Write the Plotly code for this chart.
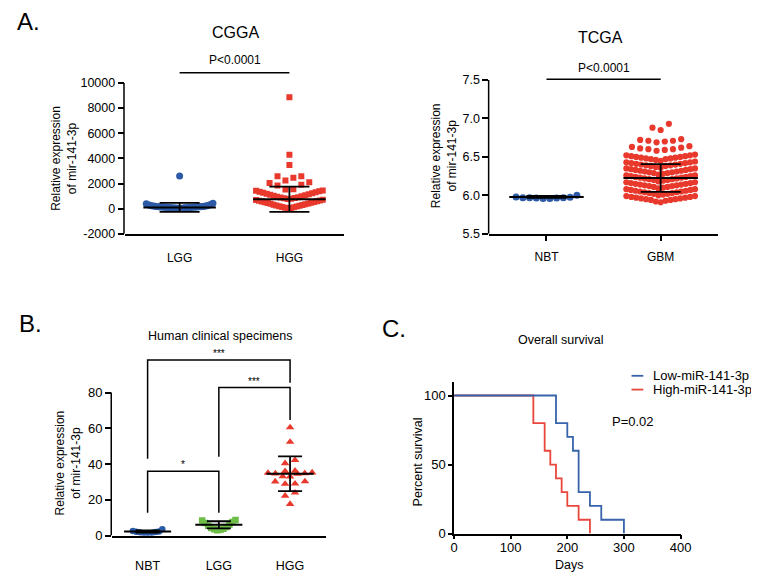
import plotly.graph_objects as go

W, H = 759, 573
FONT = "Liberation Sans, Arial, sans-serif"

# ---------------- data ----------------
# Panel A (left): CGGA
cgga_groups = ["LGG", "HGG"]
cgga_lgg = [20, 30, 40, 50, 55, 60, 65, 70, 75, 80, 85, 90, 95, 100, 105, 110,
            115, 120, 125, 130, 135, 140, 145, 150, 160, 170, 180, 190, 200,
            210, 220, 240, 260, 280, 300, 320, 350, 380, 420, 2600]
cgga_hgg = [20, 50, 80, 110, 140, 170, 200, 230, 260, 290, 320, 350, 380, 410,
            440, 470, 500, 530, 560, 590, 620, 650, 680, 700,
            760, 790, 820, 850, 880, 910, 940, 980, 1020, 1060, 1100, 1140,
            1180, 1220, 1260, 1300, 1340, 1380, 1420, 1450,
            1530, 1540, 1840, 1900, 2050, 2100,
            2235, 2450, 2570, 2580,
            3470, 4280, 8850]
cgga_mean = [100, 750]
cgga_sd = [360, 1000]
cgga_ticks = [-2000, 0, 2000, 4000, 6000, 8000, 10000]
cgga_ticktext = ["-2000", "0", "2000", "4000", "6000", "8000", "10000"]

# Panel A (right): TCGA
tcga_groups = ["NBT", "GBM"]
tcga_nbt = [5.96, 5.96, 5.965, 5.965, 5.97, 5.97, 5.97, 5.975, 5.98, 6.0]
tcga_gbm = [5.91, 5.92, 5.93, 5.94, 5.94, 5.95, 5.95, 5.96, 5.96, 5.97, 5.97, 5.98, 5.98, 5.99, 5.99,
            6.00, 6.01, 6.02, 6.02, 6.03, 6.03, 6.04, 6.04, 6.05, 6.05, 6.06, 6.06, 6.07, 6.07, 6.08, 6.08,
            6.09, 6.10, 6.11, 6.11, 6.12, 6.12, 6.13, 6.13, 6.14, 6.14, 6.15, 6.15, 6.16, 6.16, 6.17, 6.17,
            6.18, 6.19, 6.20, 6.20, 6.21, 6.21, 6.22, 6.22, 6.23, 6.23, 6.24, 6.24, 6.25, 6.25, 6.26, 6.26,
            6.27, 6.28, 6.29, 6.29, 6.30, 6.30, 6.31, 6.31, 6.32, 6.32, 6.33, 6.33, 6.34, 6.34, 6.35, 6.35,
            6.36, 6.37, 6.38, 6.38, 6.39, 6.39, 6.40, 6.40, 6.41, 6.41, 6.42, 6.42, 6.43, 6.43, 6.44,
            6.45, 6.46, 6.47, 6.47, 6.48, 6.48, 6.49, 6.49, 6.50, 6.50, 6.51, 6.51, 6.52, 6.52, 6.53,
            6.58, 6.59, 6.60, 6.60, 6.61, 6.62, 6.63, 6.64,
            6.69, 6.70, 6.71, 6.71, 6.72, 6.73,
            6.85, 6.88, 6.93]
tcga_mean = [5.98, 6.225]
tcga_sd = [0.012, 0.18]
tcga_ticks = [5.5, 6.0, 6.5, 7.0, 7.5]

# Panel B: human clinical specimens
b_groups = ["NBT", "LGG", "HGG"]
b_nbt = [0.5, 0.8, 1.2, 1.5, 1.8, 2.0, 2.1, 2.3, 2.6, 3.5]
b_lgg = [3.0, 3.2, 3.5, 3.8, 4.2, 4.8, 5.5, 6.2, 7.0, 7.6, 8.4, 8.7]
b_hgg = [17.6, 22.2, 24.0, 28.9, 29.0, 30.2, 30.3, 33.0, 33.1, 34.5, 34.7, 34.8,
         35.0, 35.2, 36.0, 36.2, 40.4, 42.2, 52.4, 60.5]
b_mean = [2.2, 6.0, 34.6]
b_sd = [0.6, 2.0, 9.7]
b_ticks = [0, 20, 40, 60, 80]
# brackets: (x_from, x_to, bar_y, leg_end_left, leg_end_right, label)
b_brackets = [(0, 2, 98.2, 43.0, 85.5, "***"),
              (1, 2, 82.8, 44.1, 64.6, "***"),
              (0, 1, 35.9, 12.7, 12.7, "*")]

# Panel C: survival
low_days = [0, 180, 200, 210, 220, 240, 260, 300]
low_surv = [100, 80, 70, 60, 30, 20, 10, 0]
high_days = [0, 140, 160, 170, 180, 190, 200, 220, 240]
high_surv = [100, 80, 60, 50, 40, 30, 20, 10, 0]
c_xticks = [0, 100, 200, 300, 400]
c_yticks = [0, 50, 100]

# ---------------- styling / layout ----------------
BLUE = "#2c5aa7"
RED = "#e8392c"
GREEN = "#6dbd46"
KM_BLUE = "#3763aa"
KM_RED = "#e9473b"


def pxx(p):
    return p / W


def pxy(p):
    return 1 - p / H


panels = {
    "a1": dict(ax="", px=(115, 339), py=(229, 44.1), xr=(-0.5, 1.5), yr=(-2000, 12500)),
    "a2": dict(ax="2", px=(487, 720), py=(229, 49.6), xr=(-0.5, 1.5), yr=(5.5, 7.8)),
    "b": dict(ax="3", px=(102, 320), py=(535, 339.25), xr=(-0.5, 2.5), yr=(0, 108)),
    "c": dict(ax="4", px=(451, 682), py=(533, 379), xr=(0, 400), yr=(0, 110)),
}

fig = go.Figure()


def ppu_x(p):
    P = panels[p]
    return (P["px"][1] - P["px"][0]) / (P["xr"][1] - P["xr"][0])


def swarm(values, center, binh, size, maxw, ppx):
    vals = sorted(values)
    rows, cur, start = [], [vals[0]], vals[0]
    for v in vals[1:]:
        if v < start + binh:
            cur.append(v)
        else:
            rows.append(cur)
            cur, start = [v], v
    rows.append(cur)
    xs, ys = [], []
    for row in rows:
        n = len(row)
        s = 1.35 * size
        if n > 1 and (n - 1) * s > maxw:
            s = maxw / (n - 1)
        slots = [(k - (n - 1) / 2) * s for k in range(n)]
        slots.sort(key=lambda o: (round(abs(o), 6), o))
        for v, o in zip(row, slots):
            xs.append(center + o / ppx)
            ys.append(v)
    return xs, ys


def add_group(p, values, cat, color, symbol, size, binh, maxw):
    P = panels[p]
    xs, ys = swarm(values, cat, binh, size, maxw, ppu_x(p))
    fig.add_trace(go.Scatter(x=xs, y=ys, mode="markers", xaxis="x" + P["ax"], yaxis="y" + P["ax"],
                             marker=dict(color=color, symbol=symbol, size=size, line=dict(width=0)),
                             showlegend=False, hoverinfo="skip"))


def add_meansd(p, means, sds, mean_hw_px, cap_px):
    P = panels[p]
    hw = mean_hw_px / ppu_x(p)
    for i, (m, s) in enumerate(zip(means, sds)):
        fig.add_trace(go.Scatter(x=[i - hw, i + hw], y=[m, m], mode="lines",
                                 xaxis="x" + P["ax"], yaxis="y" + P["ax"],
                                 line=dict(color="black", width=2), showlegend=False, hoverinfo="skip"))
        fig.add_trace(go.Scatter(x=[i], y=[m], mode="markers", xaxis="x" + P["ax"], yaxis="y" + P["ax"],
                                 marker=dict(size=1, color="rgba(0,0,0,0)"),
                                 error_y=dict(type="data", array=[s], visible=True, color="black",
                                              thickness=1.8, width=cap_px),
                                 showlegend=False, hoverinfo="skip"))


# Panel A left
add_group("a1", cgga_lgg, 0, BLUE, "circle", 7, 700, 68)
add_group("a1", cgga_hgg, 1, RED, "square", 6, 700, 68)
add_meansd("a1", cgga_mean, cgga_sd, 37, 20)

# Panel A right
add_group("a2", tcga_nbt, 0, BLUE, "circle", 7, 0.088, 62)
add_group("a2", tcga_gbm, 1, RED, "circle", 6.2, 0.088, 70)
add_meansd("a2", tcga_mean, tcga_sd, 38, 20)

# Panel B
add_group("b", b_nbt, 0, BLUE, "circle", 6.5, 8, 30)
add_group("b", b_lgg, 1, GREEN, "square", 6.5, 8, 34)
add_group("b", b_hgg, 2, RED, "triangle-up", 7.5, 2.5, 45)
add_meansd("b", b_mean, b_sd, 24, 12)

# Panel C
fig.add_trace(go.Scatter(x=high_days, y=high_surv, mode="lines", line_shape="hv", name="High-miR-141-3p",
                         xaxis="x4", yaxis="y4", line=dict(color=KM_RED, width=1.8),
                         showlegend=False, hoverinfo="skip"))
fig.add_trace(go.Scatter(x=low_days, y=low_surv, mode="lines", line_shape="hv", name="Low-miR-141-3p",
                         xaxis="x4", yaxis="y4", line=dict(color=KM_BLUE, width=1.8),
                         showlegend=False, hoverinfo="skip"))

# ---------------- axes ----------------
tickfont = dict(family=FONT, size=12.5, color="black")
catfont = dict(family=FONT, size=12, color="black")
common = dict(showgrid=False, zeroline=False, linecolor="black", linewidth=1.5,
              tickcolor="black", tickwidth=1.5, fixedrange=True)

layout = dict(width=W, height=H, margin=dict(l=0, r=0, t=0, b=0), autosize=False,
              paper_bgcolor="white", plot_bgcolor="white", showlegend=False,
              font=dict(family=FONT, color="black"))


def set_axes(p, xkw, ykw):
    P = panels[p]
    ax = P["ax"]
    layout["xaxis" + ax] = dict(common, domain=[pxx(P["px"][0]), pxx(P["px"][1])], range=list(P["xr"]),
                                anchor="y" + ax, **xkw)
    layout["yaxis" + ax] = dict(common, domain=[pxy(P["py"][0]), pxy(P["py"][1])], range=list(P["yr"]),
                                anchor="x" + ax, **ykw)


set_axes("a1",
         dict(showline=True, ticks="", tickvals=[0, 1], ticktext=cgga_groups, tickfont=catfont,
              ticklabelstandoff=12),
         dict(showline=False, ticks="outside", ticklen=6, tickvals=cgga_ticks, ticktext=cgga_ticktext,
              tickfont=tickfont))
set_axes("a2",
         dict(showline=True, ticks="outside", ticklen=5, tickvals=[0, 1], ticktext=tcga_groups,
              tickfont=catfont, ticklabelstandoff=6),
         dict(showline=False, ticks="outside", ticklen=6, tickvals=tcga_ticks, tickformat=".1f",
              tickfont=tickfont))
set_axes("b",
         dict(showline=True, ticks="", tickvals=[0, 1, 2], ticktext=b_groups,
              tickfont=dict(family=FONT, size=12.5, color="black"), ticklabelstandoff=18),
         dict(showline=False, ticks="outside", ticklen=6, tickvals=b_ticks,
              tickfont=dict(family=FONT, size=13, color="black")))
set_axes("c",
         dict(showline=True, ticks="outside", ticklen=4, tickvals=c_xticks, ticklabelstandoff=-3,
              tickfont=dict(family=FONT, size=13, color="black")),
         dict(showline=True, ticks="outside", ticklen=4, tickvals=c_yticks,
              tickfont=dict(family=FONT, size=13, color="black")))

shapes = []
annotations = []

# custom y axis lines (only up to top tick)
for p, top in (("a1", cgga_ticks[-1]), ("a2", tcga_ticks[-1]), ("b", b_ticks[-1])):
    P = panels[p]
    shapes.append(dict(type="line", xref="paper", yref="y" + P["ax"], x0=pxx(P["px"][0]) - 0.75 / W,
                       x1=pxx(P["px"][0]) - 0.75 / W, y0=P["yr"][0], y1=top,
                       line=dict(color="black", width=1.5)))


def ann(text, x, y, size, **kw):
    d = dict(text=text, x=pxx(x), y=pxy(y), xref="paper", yref="paper", showarrow=False,
             font=dict(family=FONT, size=size, color="black"), xanchor="center", yanchor="middle")
    d.update(kw)
    annotations.append(d)


# panel letters and titles
ann("A.", 3, 14, 24, xanchor="left")
ann("B.", 5, 320, 24, xanchor="left")
ann("C.", 375, 325, 24, xanchor="left")
ann("CGGA", 228, 25, 16)
ann("TCGA", 600, 30, 16)
ann("Human clinical specimens", 213, 333, 12.5)
ann("Overall survival", 560, 337, 12.5)

# y-axis titles
ann("Relative expression<br>of mir-141-3p", 53, 152, 12, textangle=-90)
ann("Relative expression<br>of mir-141-3p", 441, 150, 12, textangle=-90)
ann("Relative expression<br>of mir-141-3p", 57, 461, 12, textangle=-90)
ann("Percent survival", 414, 460, 12.5, textangle=-90)
ann("Days", 568, 565, 12.5)

# P-value lines in panel A
for ax, yline, ytext in (("", 10800, 11850), ("2", 7.51, 7.655)):
    shapes.append(dict(type="line", xref="x" + ax, yref="y" + ax, x0=0, x1=1, y0=yline, y1=yline,
                       line=dict(color="black", width=1.5)))
    annotations.append(dict(text="P<0.0001", x=0.5, y=ytext, xref="x" + ax, yref="y" + ax,
                            showarrow=False, font=dict(family=FONT, size=12, color="black"),
                            xanchor="center", yanchor="middle"))

# significance brackets in panel B
for x0, x1, yb, yl, yr, lab in b_brackets:
    shapes.append(dict(type="path", xref="x3", yref="y3",
                       path=f"M {x0},{yl} L {x0},{yb} L {x1},{yb} L {x1},{yr}",
                       line=dict(color="black", width=1.5)))
    annotations.append(dict(text=lab, x=(x0 + x1) / 2, y=yb, xref="x3", yref="y3", showarrow=False,
                            font=dict(family=FONT, size=10, color="black"),
                            xanchor="center", yanchor="bottom", yshift=-1))

# legend and p-value for panel C
for yy, col, name in ((373, KM_BLUE, "Low-miR-141-3p"), (387, KM_RED, "High-miR-141-3p")):
    shapes.append(dict(type="line", xref="paper", yref="paper", x0=pxx(632), x1=pxx(644),
                       y0=pxy(yy), y1=pxy(yy), line=dict(color=col, width=1.8)))
    ann(name, 652, yy, 13, xanchor="left")
ann("P=0.02", 634, 419, 13)

layout["shapes"] = shapes
layout["annotations"] = annotations
fig.update_layout(**layout)

fig.write_html("out.html")
